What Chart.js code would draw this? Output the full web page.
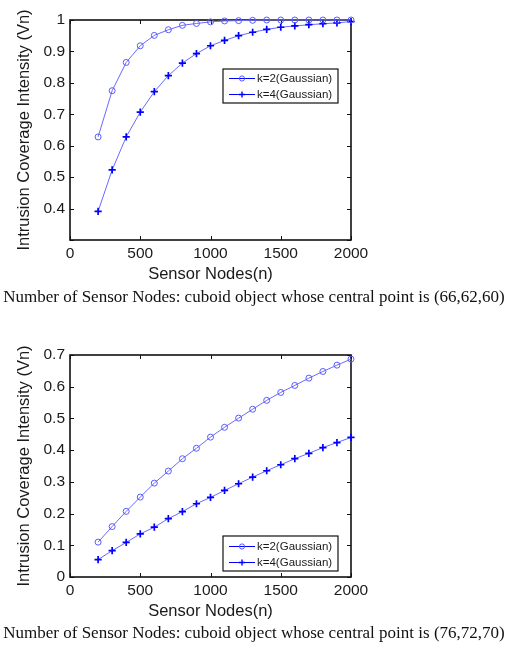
<!DOCTYPE html>
<html>
<head>
<meta charset="utf-8">
<script src="https://cdn.jsdelivr.net/npm/chart.js@4.4.0/dist/chart.umd.min.js"></script>
<style>
body { margin: 0; background: #fff; width: 516px; height: 651px; position: relative; overflow: hidden; }
canvas { position: absolute; left: 0; }
.caption { position: absolute; left: 0; width: 508px; text-align: center; line-height: 18px;
  font-family: "Liberation Serif", "Times New Roman", serif; font-size: 17px; color: #111; white-space: nowrap; }
</style>
</head>
<body>
<canvas id="chart1" width="516" height="290" style="top:0px"></canvas>
<div class="caption" style="top:288px">Number of Sensor Nodes: cuboid object whose central point is (66,62,60)</div>
<canvas id="chart2" width="516" height="292" style="top:335px"></canvas>
<div class="caption" style="top:624px">Number of Sensor Nodes: cuboid object whose central point is (76,72,70)</div>
<script>
// sensor node counts on the x axis
const nodes = [200, 300, 400, 500, 600, 700, 800, 900, 1000, 1100, 1200, 1300, 1400, 1500, 1600, 1700, 1800, 1900, 2000]

// first chart, central point (66,62,60)
const top_k2 = [0.628, 0.775, 0.865, 0.918, 0.951, 0.969, 0.983, 0.989, 0.994, 0.997, 0.998, 0.999, 1.0, 1.0, 1.0, 1.0, 1.0, 1.0, 1.0]
const top_k4 = [0.391, 0.523, 0.628, 0.707, 0.772, 0.823, 0.863, 0.893, 0.918, 0.935, 0.950, 0.961, 0.970, 0.977, 0.981, 0.985, 0.988, 0.991, 0.995]

// second chart, central point (76,72,70)
const bottom_k2 = [0.110, 0.159, 0.207, 0.252, 0.296, 0.334, 0.373, 0.406, 0.441, 0.472, 0.501, 0.529, 0.557, 0.582, 0.604, 0.627, 0.648, 0.668, 0.687]
const bottom_k4 = [0.055, 0.083, 0.109, 0.136, 0.157, 0.184, 0.206, 0.231, 0.251, 0.273, 0.294, 0.315, 0.335, 0.354, 0.373, 0.390, 0.408, 0.424, 0.440]

const seriesLabels = ['k=2(Gaussian)', 'k=4(Gaussian)']
const xTitle = 'Sensor Nodes(n)'
const yTitle = 'Intrusion Coverage Intensity (Vn)'

const sans = '"Liberation Sans", Arial, Helvetica, sans-serif'
const textColor = '#1a1a1a'

// box around the plot with short inward ticks, like matlab
const framePlugin = {
    id: 'frame',
    beforeDatasetsDraw(chart) {
        const { ctx, chartArea: a, scales: { x, y } } = chart
        ctx.save()
        ctx.strokeStyle = '#111'
        ctx.lineWidth = 1
        x.ticks.forEach(t => {
            const px = Math.round(x.getPixelForValue(t.value)) + 0.5
            ctx.beginPath()
            ctx.moveTo(px, a.bottom); ctx.lineTo(px, a.bottom - 4)
            ctx.moveTo(px, a.top); ctx.lineTo(px, a.top + 4)
            ctx.stroke()
        })
        y.ticks.forEach(t => {
            const py = Math.round(y.getPixelForValue(t.value)) + 0.5
            ctx.beginPath()
            ctx.moveTo(a.left, py); ctx.lineTo(a.left + 4, py)
            ctx.moveTo(a.right, py); ctx.lineTo(a.right - 4, py)
            ctx.stroke()
        })
        ctx.lineWidth = 1.6
        ctx.strokeRect(a.left, a.top, a.right - a.left, a.bottom - a.top)
        ctx.restore()
    }
}

// boxed legend inside the plot
const boxLegendPlugin = {
    id: 'boxLegend',
    afterDatasetsDraw(chart, args, opts) {
        const { ctx, chartArea: a } = chart
        const w = 115, h = opts.height
        const left = a.right - opts.right - w
        const top = opts.top !== undefined ? a.top + opts.top : a.bottom - opts.bottom - h
        ctx.save()
        ctx.fillStyle = '#fff'
        ctx.fillRect(left, top, w, h)
        ctx.strokeStyle = '#111'
        ctx.lineWidth = 1.2
        ctx.strokeRect(left, top, w, h)
        chart.data.datasets.forEach((ds, i) => {
            const cy = Math.round(top + h / 2 + (i === 0 ? -8 : 8)) + 0.5
            ctx.strokeStyle = '#0000ff'
            ctx.lineWidth = 1
            ctx.beginPath()
            ctx.moveTo(left + 6, cy); ctx.lineTo(left + 32, cy)
            ctx.stroke()
            const mx = left + 19
            ctx.beginPath()
            if (ds.pointStyle === 'circle') {
                ctx.strokeStyle = '#5a5aff'
                ctx.arc(mx, cy, 2.6, 0, Math.PI * 2)
            } else {
                ctx.lineWidth = 1.4
                ctx.moveTo(mx - 3, cy); ctx.lineTo(mx + 3, cy)
                ctx.moveTo(mx, cy - 3); ctx.lineTo(mx, cy + 3)
            }
            ctx.stroke()
            ctx.fillStyle = textColor
            ctx.font = '11.5px ' + sans
            ctx.textBaseline = 'middle'
            ctx.fillText(ds.label, left + 34, cy)
        })
        ctx.restore()
    }
}

function makeChart(id, k2, k4, yMin, yMax, hideMin, legendOpts, plotBottomPad) {
    new Chart(document.getElementById(id), {
        type: 'line',
        data: {
            datasets: [{
                label: seriesLabels[0],
                data: nodes.map((n, i) => ({ x: n, y: k2[i] })),
                borderColor: '#6a6aff',
                borderWidth: 1,
                pointStyle: 'circle',
                pointRadius: 3,
                pointBorderWidth: 1,
                pointBorderColor: '#5a5aff',
                pointBackgroundColor: 'rgba(0,0,0,0)',
                clip: false
            }, {
                label: seriesLabels[1],
                data: nodes.map((n, i) => ({ x: n, y: k4[i] })),
                borderColor: '#6a6aff',
                borderWidth: 1,
                pointStyle: 'cross',
                pointRadius: 3.6,
                pointBorderWidth: 1.7,
                pointBorderColor: '#0000ff',
                pointBackgroundColor: '#0000ff',
                clip: false
            }]
        },
        options: {
            responsive: false,
            animation: false,
            layout: { padding: { left: 0, top: 20, right: 165, bottom: 0 } },
            plugins: {
                legend: { display: false },
                tooltip: { enabled: false },
                boxLegend: legendOpts
            },
            scales: {
                x: {
                    type: 'linear',
                    min: 0,
                    max: 2000,
                    ticks: { stepSize: 500, padding: 4, color: textColor, font: { family: sans, size: 15.5 }, callback: v => String(v) },
                    grid: { display: false, drawTicks: false },
                    border: { display: false },
                    title: { display: true, text: xTitle, color: textColor, font: { family: sans, size: 16.5 }, padding: { top: 0, bottom: 6 } },
                    afterFit(scale) { scale.height = plotBottomPad }
                },
                y: {
                    min: yMin,
                    max: yMax,
                    ticks: {
                        stepSize: 0.1,
                        padding: 5,
                        color: textColor,
                        font: { family: sans, size: 15.5 },
                        callback: v => (hideMin && Math.abs(v - yMin) < 1e-6) ? '' : parseFloat(v.toFixed(1)).toString()
                    },
                    grid: { display: false, drawTicks: false },
                    border: { display: false },
                    title: { display: true, text: yTitle, color: textColor, font: { family: sans, size: 16.5 }, padding: { top: 15, bottom: 0 } },
                    afterFit(scale) { scale.width = 70 }
                }
            }
        },
        plugins: [framePlugin, boxLegendPlugin]
    })
}

makeChart('chart1', top_k2, top_k4, 0.3, 1, true, { right: 13, top: 49, height: 34 }, 50)
makeChart('chart2', bottom_k2, bottom_k4, 0, 0.7, false, { right: 13, bottom: 6, height: 35 }, 50)
</script>
</body>
</html>
